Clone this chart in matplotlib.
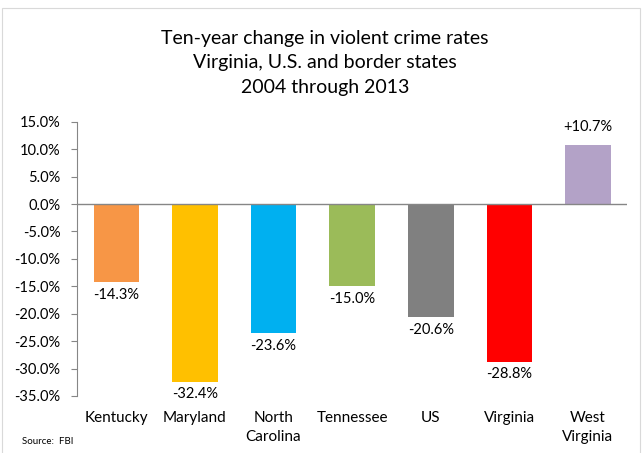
import matplotlib
matplotlib.use("Agg")
import matplotlib.pyplot as plt
from matplotlib.patches import Rectangle
from matplotlib.ticker import FuncFormatter

plt.rcParams["font.family"] = ["Lato", "DejaVu Sans"]

states = ["Kentucky", "Maryland", "North\nCarolina", "Tennessee", "US", "Virginia", "West\nVirginia"]
change_pct = [-14.3, -32.4, -23.6, -15.0, -20.6, -28.8, 10.7]
bar_colors = ["#F79646", "#FFC000", "#00B0F0", "#9BBB59", "#808080", "#FF0000", "#B3A2C7"]
yticks = [15, 10, 5, 0, -5, -10, -15, -20, -25, -30, -35]

fig = plt.figure(figsize=(6.42, 4.53), dpi=100)
ax = fig.add_axes([0.12, 0.126, 0.857, 0.605])

x = range(len(states))
ax.bar(x, change_pct, width=0.58, color=bar_colors, zorder=2)

for xi, v in zip(x, change_pct):
    if v < 0:
        ax.annotate(f"{v:.1f}%", (xi, v), xytext=(0, -4), textcoords="offset points",
                    ha="center", va="top", fontsize=10.5)
    else:
        ax.annotate(f"+{v:.1f}%", (xi, v), xytext=(0, 8), textcoords="offset points",
                    ha="center", va="bottom", fontsize=10.5)

ax.set_xlim(-0.5, len(states) - 0.5)
ax.set_ylim(-35, 15)
ax.set_yticks(yticks)
ax.yaxis.set_major_formatter(FuncFormatter(lambda v, p: f"{v:.1f}%"))
ax.tick_params(axis="y", labelsize=10.5, length=4, color="#868686", direction="out", pad=8)
ax.set_xticks(list(x))
ax.set_xticklabels(states, fontsize=11, linespacing=1.4)
ax.tick_params(axis="x", length=0, pad=11)
for lbl in ax.get_xticklabels():
    lbl.set_verticalalignment("top")

for s in ["top", "right", "bottom"]:
    ax.spines[s].set_visible(False)
ax.spines["left"].set_color("#868686")
ax.axhline(0, color="#868686", lw=1, zorder=3)

fig.text(0.506, 0.861, "Ten-year change in violent crime rates\nVirginia, U.S. and border states\n2004 through 2013",
         ha="center", va="center", fontsize=14, linespacing=1.55)
fig.text(0.034, 0.026, "Source:  FBI", fontsize=7, ha="left", va="center")

fig.patches.append(Rectangle((0.003, -0.01), 0.994, 0.992, transform=fig.transFigure,
                             fill=False, edgecolor="#D9D9D9", lw=0.8))

fig.savefig("out.png", dpi=100)
